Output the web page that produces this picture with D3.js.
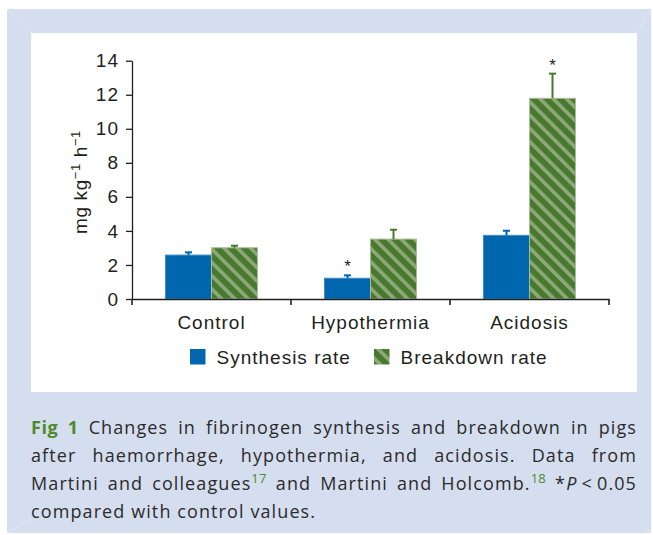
<!DOCTYPE html>
<html>
<head>
<meta charset="utf-8">
<script src="https://cdn.jsdelivr.net/npm/d3@7/dist/d3.min.js"></script>
<style>
  html, body { margin: 0; padding: 0; background: #ffffff; }
  #wrap { position: relative; width: 653px; height: 535px; }
  svg { position: absolute; left: 0; top: 0; }
  #caption { position: absolute; left: 31px; top: 413px; width: 606px;
    font-family: "Open Sans", "Noto Sans", sans-serif; font-size: 18px; line-height: 28px; color: #2b2b2b;
    letter-spacing: 1.1px; }
  #caption .ln { height: 28px; text-align: justify; text-align-last: justify; white-space: normal; }
  #caption .ln.last { text-align: left; text-align-last: left; }
  #caption .fig { color: #4b8a2e; font-weight: 700; letter-spacing: 0.6px; }
  #caption sup { color: #4b8a2e; font-size: 13px; line-height: 0; vertical-align: 0.55em; letter-spacing: 0.3px; }
</style>
</head>
<body>
<div id="wrap">
  <svg id="chart" width="653" height="535"></svg>
  <div id="caption"></div>
</div>
<script>
// ---------------- data ----------------
const categories = ["Control", "Hypothermia", "Acidosis"];
const seriesNames = ["Synthesis rate", "Breakdown rate"];
const synthesis = [2.58, 1.22, 3.74];
const synthesisErr = [0.16, 0.17, 0.27];
const breakdown = [3.01, 3.52, 11.79];
const breakdownErr = [0.12, 0.55, 1.45];
const synthesisSig = [false, true, false];
const breakdownSig = [false, false, true];
const yTicks = [0, 2, 4, 6, 8, 10, 12, 14];
const yLabelParts = ["mg kg", "\u22121", " h", "\u22121"];
const captionLines = [
  '<span class="fig">Fig 1</span> Changes in fibrinogen synthesis and breakdown in pigs',
  'after haemorrhage, hypothermia, and acidosis. Data from',
  'Martini and colleagues<sup>17</sup> and Martini and Holcomb.<sup>18</sup> *<i>P</i>\u2009&lt;\u20090.05',
  'compared with control values.'
];

// ---------------- styles ----------------
const ink = "#231f20";
const blue = "#0066ae";
const green = "#487a2e";
const greenLight = "#8fa77b";
const font = '"Liberation Sans", Arial, Helvetica, sans-serif';

const svg = d3.select("#chart");

// frame
svg.append("rect").attr("x", 7).attr("y", 9).attr("width", 644).attr("height", 524).attr("fill", "#d5deef");
const bevel = [[7, 9, 31, 33], [651, 9, 637, 33], [7, 533, 31, 519], [651, 533, 637, 519]];
svg.selectAll("line.bevel").data(bevel).join("line").attr("class", "bevel")
  .attr("x1", d => d[0]).attr("y1", d => d[1]).attr("x2", d => d[2]).attr("y2", d => d[3])
  .attr("stroke", "#e2e8f4").attr("stroke-width", 1);
svg.append("rect").attr("x", 31).attr("y", 33).attr("width", 606).attr("height", 359).attr("fill", "#ffffff");

// pattern
const defs = svg.append("defs");
const pat = defs.append("pattern").attr("id", "stripes").attr("patternUnits", "userSpaceOnUse")
  .attr("width", 9.4).attr("height", 9.4).attr("patternTransform", "rotate(-45)");
pat.append("rect").attr("width", 9.4).attr("height", 9.4).attr("fill", green);
pat.append("rect").attr("x", 0).attr("width", 3.6).attr("height", 9.4).attr("fill", greenLight);

// scales
const x0 = d3.scaleBand().domain(categories).range([132, 609]).padding(0);
const x1 = d3.scaleBand().domain(seriesNames).range([0, x0.bandwidth()]).paddingInner(0).paddingOuter(0.728);
const y = d3.scaleLinear().domain([0, 14]).range([299, 60.7]);

const g = svg.append("g");

// data rows
const rows = categories.map((c, i) => [
  { cat: c, s: seriesNames[0], v: synthesis[i], e: synthesisErr[i], sig: synthesisSig[i], col: blue, fill: blue, edge: "#3f8bc6" },
  { cat: c, s: seriesNames[1], v: breakdown[i], e: breakdownErr[i], sig: breakdownSig[i], col: green, fill: "url(#stripes)", edge: "#a9bd99" }
]).flat();

// bars
g.selectAll("rect.bar").data(rows).join("rect").attr("class", "bar")
  .attr("x", d => x0(d.cat) + x1(d.s))
  .attr("y", d => y(d.v))
  .attr("width", x1.bandwidth())
  .attr("height", d => y(0) - y(d.v))
  .attr("fill", d => d.fill)
  .attr("stroke", d => d.edge).attr("stroke-width", 1);

// error bars
const cx = d => x0(d.cat) + x1(d.s) + x1.bandwidth() / 2;
g.selectAll("line.err").data(rows).join("line").attr("class", "err")
  .attr("x1", cx).attr("x2", cx)
  .attr("y1", d => y(d.v)).attr("y2", d => y(d.v + d.e))
  .attr("stroke", d => d.col).attr("stroke-width", 2);
g.selectAll("line.cap").data(rows).join("line").attr("class", "cap")
  .attr("x1", d => cx(d) - 3.5).attr("x2", d => cx(d) + 3.5)
  .attr("y1", d => y(d.v + d.e)).attr("y2", d => y(d.v + d.e))
  .attr("stroke", d => d.col).attr("stroke-width", 2);

// significance stars
g.selectAll("text.star").data(rows.filter(d => d.sig)).join("text").attr("class", "star")
  .attr("x", cx).attr("y", d => y(d.v + d.e) - 3)
  .attr("text-anchor", "middle")
  .attr("font-family", font).attr("font-size", 17).attr("fill", ink)
  .text("*");

// y axis
const yAxis = g.append("g").attr("transform", "translate(132,0)")
  .call(d3.axisLeft(y).tickValues(yTicks).tickSize(6).tickSizeOuter(0).tickPadding(7));
yAxis.select(".domain").attr("stroke", ink).attr("stroke-width", 1.3);
yAxis.selectAll(".tick line").attr("stroke", ink).attr("stroke-width", 1.3);
yAxis.selectAll(".tick text").attr("font-family", font).attr("font-size", 19)
  .attr("letter-spacing", "1px").attr("fill", ink);

// x axis
const xAxis = g.append("g").attr("transform", "translate(0,299)")
  .call(d3.axisBottom(x0).tickSize(0).tickSizeOuter(0).tickPadding(16.5));
xAxis.select(".domain").attr("stroke", ink).attr("stroke-width", 1.3);
xAxis.selectAll(".tick text").attr("font-family", font).attr("font-size", 19)
  .attr("letter-spacing", "1px").attr("fill", ink);
const bounds = categories.map(c => x0(c)).concat([x0.range()[1]]);
xAxis.selectAll("line.bnd").data(bounds).join("line").attr("class", "bnd")
  .attr("x1", d => d).attr("x2", d => d).attr("y1", 0).attr("y2", 6)
  .attr("stroke", ink).attr("stroke-width", 1.6);

// y label
const yl = g.append("text")
  .attr("transform", "translate(87,182) rotate(-90)")
  .attr("text-anchor", "middle")
  .attr("font-family", font).attr("font-size", 19).attr("letter-spacing", "0.6px").attr("fill", ink);
yLabelParts.forEach((p, i) => {
  const t = yl.append("tspan").text(p);
  if (i % 2 === 1) t.attr("font-size", 13).attr("dy", -7);
  else if (i > 0) t.attr("dy", 7);
});

// legend
const legend = g.append("g");
const legItems = [
  { name: seriesNames[0], fill: blue, x: 190 },
  { name: seriesNames[1], fill: "url(#stripes)", x: 374 }
];
legend.selectAll("rect").data(legItems).join("rect")
  .attr("x", d => d.x).attr("y", 349).attr("width", 15.5).attr("height", 15.5)
  .attr("fill", d => d.fill);
legend.selectAll("text").data(legItems).join("text")
  .attr("x", d => d.x + 26.5).attr("y", 363.5)
  .attr("font-family", font).attr("font-size", 19).attr("letter-spacing", "1px").attr("fill", ink)
  .text(d => d.name);

// caption
d3.select("#caption").selectAll("div.ln").data(captionLines).join("div")
  .attr("class", (d, i) => i === captionLines.length - 1 ? "ln last" : "ln")
  .html(d => d);
</script>
</body>
</html>
